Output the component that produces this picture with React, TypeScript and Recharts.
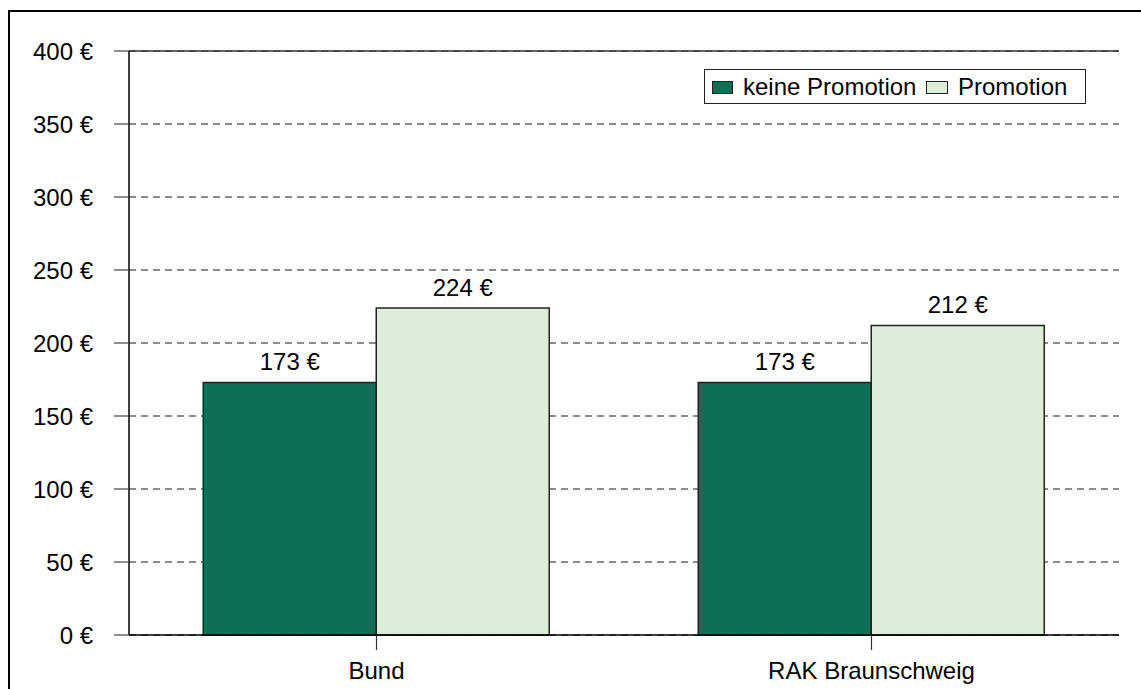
import React from "react";
import {
  BarChart,
  Bar,
  XAxis,
  YAxis,
  CartesianGrid,
  Legend,
  LabelList,
  ReferenceLine,
} from "recharts";

const categories = ["Bund", "RAK Braunschweig"];
const keinePromotion = [173, 173];
const promotion = [224, 212];
const yTicks = [0, 50, 100, 150, 200, 250, 300, 350, 400];
const seriesNames = ["keine Promotion", "Promotion"];

const DARK = "#0E6E56";
const LIGHT = "#DCEDD8";
const FONT = "'Liberation Sans', Arial, sans-serif";

const data = categories.map((c, i) => ({
  name: c,
  keine: keinePromotion[i],
  promo: promotion[i],
}));

const euro = (v: number) => `${v} €`;

const LegendBox = () => (
  <div
    style={{
      position: "relative",
      width: 382,
      height: 35,
      boxSizing: "border-box",
      border: "1.5px solid #222",
      background: "#fff",
      fontFamily: FONT,
      fontSize: 24,
      color: "#000",
    }}
  >
    <div
      style={{
        position: "absolute",
        left: 7,
        top: 10.5,
        width: 21,
        height: 13,
        boxSizing: "border-box",
        background: DARK,
        border: "1.5px solid #222",
      }}
    />
    <div style={{ position: "absolute", left: 38, top: 3, lineHeight: "27px", whiteSpace: "nowrap" }}>
      {seriesNames[0]}
    </div>
    <div
      style={{
        position: "absolute",
        left: 221,
        top: 10.5,
        width: 22,
        height: 13,
        boxSizing: "border-box",
        background: LIGHT,
        border: "1.5px solid #222",
      }}
    />
    <div style={{ position: "absolute", left: 253, top: 3, lineHeight: "27px", whiteSpace: "nowrap" }}>
      {seriesNames[1]}
    </div>
  </div>
);

export default function App() {
  return (
    <div>
      <div
        style={{
          position: "fixed",
          left: 0,
          top: 0,
          width: 1141,
          height: 689,
          background: "#fff",
        }}
      >
        <BarChart
          width={1141}
          height={689}
          data={data}
          margin={{ top: 51, right: 22, left: 0, bottom: 14 }}
          barCategoryGap="15%"
          barGap={0}
          style={{ fontFamily: FONT }}
        >
          <CartesianGrid
            yAxisId="left"
            horizontal={true}
            vertical={false}
            stroke="#666"
            strokeDasharray="7 5"
            strokeWidth={1.3}
          />
          <XAxis
            dataKey="name"
            height={40}
            axisLine={{ stroke: "#000", strokeWidth: 1.5 }}
            tickLine={{ stroke: "#333", strokeWidth: 1.2 }}
            tickSize={15}
            tickMargin={12}
            tick={{ fill: "#000", fontSize: 24, fontFamily: FONT }}
            interval={0}
          />
          <YAxis
            yAxisId="left"
            width={129}
            domain={[0, 400]}
            ticks={yTicks}
            tickFormatter={euro}
            axisLine={{ stroke: "#000", strokeWidth: 1.5 }}
            tickLine={{ stroke: "#444", strokeWidth: 1.2 }}
            tickSize={15}
            tickMargin={21}
            tick={{ fill: "#000", fontSize: 24, fontFamily: FONT }}
            interval={0}
          />
          <YAxis
            yAxisId="right"
            orientation="right"
            width={0}
            domain={[0, 400]}
            tick={false}
            tickLine={false}
            axisLine={{ stroke: "#333", strokeWidth: 1.5 }}
          />
          <ReferenceLine yAxisId="left" y={400} stroke="#333" strokeWidth={1.5} />
          <Legend
            layout="horizontal"
            verticalAlign="middle"
            align="center"
            content={() => <LegendBox />}
            wrapperStyle={{ position: "absolute", left: 704, top: 69, width: 382, height: 35 }}
          />
          <Bar
            yAxisId="left"
            dataKey="keine"
            name={seriesNames[0]}
            fill={DARK}
            stroke="#222"
            strokeWidth={1.5}
            isAnimationActive={false}
          >
            <LabelList
              dataKey="keine"
              position="top"
              offset={12}
              formatter={euro}
              style={{ fill: "#000", fontSize: 24, fontFamily: FONT }}
            />
          </Bar>
          <Bar
            yAxisId="left"
            dataKey="promo"
            name={seriesNames[1]}
            fill={LIGHT}
            stroke="#222"
            strokeWidth={1.5}
            isAnimationActive={false}
          >
            <LabelList
              dataKey="promo"
              position="top"
              offset={12}
              formatter={euro}
              style={{ fill: "#000", fontSize: 24, fontFamily: FONT }}
            />
          </Bar>
        </BarChart>
      </div>
      <div
        style={{
          position: "fixed",
          left: 8,
          top: 10,
          width: 1200,
          height: 800,
          borderLeft: "2px solid #000",
          borderTop: "2px solid #000",
          pointerEvents: "none",
        }}
      />
    </div>
  );
}
